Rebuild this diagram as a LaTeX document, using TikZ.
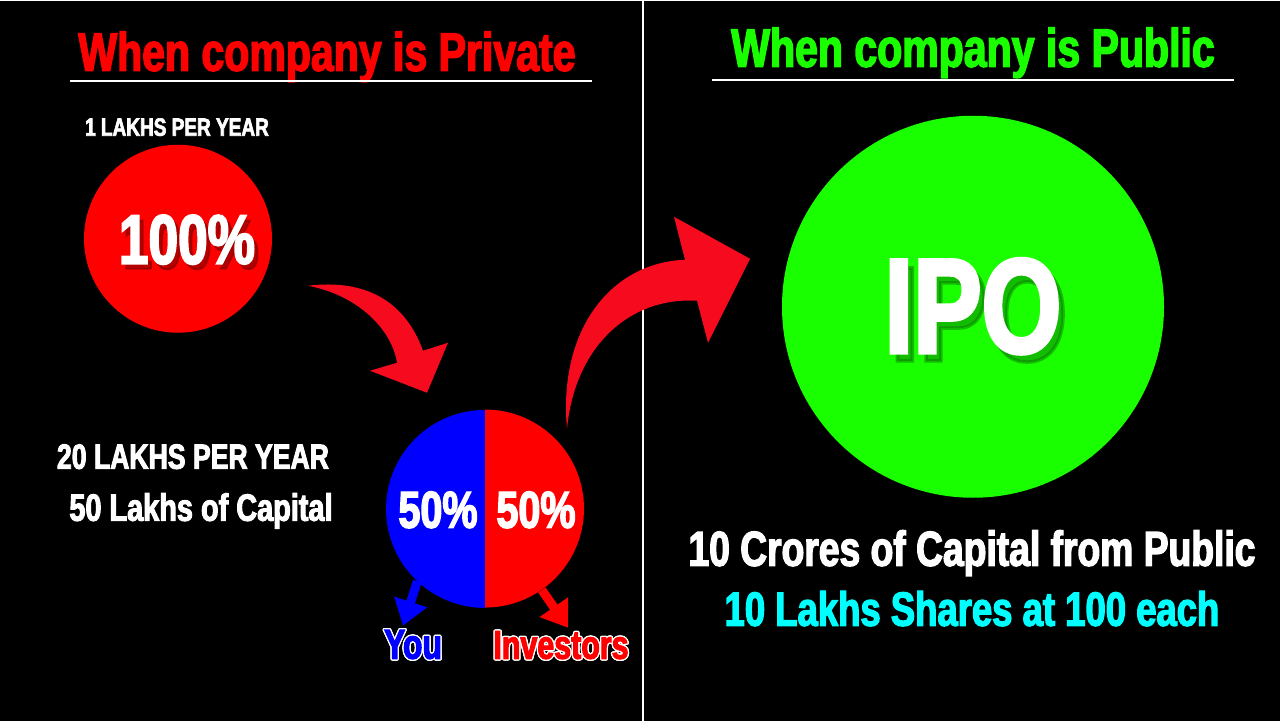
\documentclass[tikz,border=0pt]{standalone}
\usepackage{fontspec}
\usepackage{contour}
\usetikzlibrary{arrows.meta}
\newfontfamily\impact[FakeStretch=0.76,FakeBold=2.6]{Liberation Sans}
\newcommand{\fsz}[1]{\fontsize{#1}{#1}\selectfont}
\definecolor{arrowred}{HTML}{F50A1E}
\definecolor{pubgreen}{HTML}{1AFF00}
\definecolor{pieblue}{HTML}{0000FF}
\definecolor{sharecyan}{HTML}{00FFFF}
\definecolor{redshadow}{HTML}{7A0000}
\definecolor{greenshadow}{HTML}{0B7A00}
\contourlength{1.3pt}

\begin{document}
\begin{tikzpicture}[x=1pt,y=-1pt,
  lbl/.style={anchor=base,inner sep=0pt,text=white},
  disc/.style={circle,inner sep=0pt},
  rule/.style={draw=white,line width=2pt},
  splitarrow/.style={line width=9pt,-{Triangle[length=25pt,width=33pt]}}]
  \fill[black] (0,0) rectangle (1280,720);
  \draw[white,line width=1.5pt] (643,0) -- (643,720);

  % private company
  \node[lbl,text=red,font=\impact\bfseries\fsz{54}] (privtitle) at (327,70) {When company is Private};
  \draw[rule] (70,80) -- (592,80);
  \node[lbl,font=\impact\bfseries\fsz{25}] (oneyear) at (177,135) {1 LAKHS PER YEAR};
  \node[disc,fill=red,minimum size=188pt] (full) at (178,238) {};
  \node[lbl,text=redshadow,opacity=0.55,font=\impact\bfseries\fsz{70}] at (191,268) {100\%};
  \node[lbl,font=\impact\bfseries\fsz{70}] (fullpct) at (187,263) {100\%};

  \fill[arrowred] (308,285) .. controls (365,278) and (405,300) .. (423,350)
    -- (448,342) -- (427,392) -- (370,370) -- (397,362)
    .. controls (392,330) and (360,295) .. (308,285) -- cycle;

  \node[lbl,font=\impact\bfseries\fsz{35}] (twenty) at (193,468) {20 LAKHS PER YEAR};
  \node[lbl,font=\impact\bfseries\fsz{38}] (capital) at (201,520) {50 Lakhs of Capital};

  \node[disc,minimum size=198pt] (pie) at (485,508) {};
  \fill[pieblue] (pie.south) arc[start angle=90,end angle=270,radius=99] -- cycle;
  \fill[red] (pie.north) arc[start angle=270,end angle=450,radius=99] -- cycle;
  \node[lbl,font=\impact\bfseries\fsz{52}] (youpct) at (438,527) {50\%};
  \node[lbl,font=\impact\bfseries\fsz{52}] (invpct) at (536,527) {50\%};

  \coordinate (youtip) at (403,625);
  \coordinate (invtip) at (568,627);
  \draw[splitarrow,pieblue] (pie.227) -- (youtip);
  \draw[splitarrow,red] (pie.305) -- (invtip);
  \node[lbl,text=pieblue,font=\impact\bfseries\fsz{42}] (you) at (413,658) {\contour{white}{You}};
  \node[lbl,text=red,font=\impact\bfseries\fsz{40}] (investors) at (561,658) {\contour{white}{Investors}};

  \fill[arrowred] (567,428) .. controls (558,330) and (610,262) .. (685,259)
    -- (674,216) -- (750,258) -- (708,342) -- (697,300)
    .. controls (630,296) and (575,345) .. (567,428) -- cycle;

  % public company
  \node[lbl,text=pubgreen,font=\impact\bfseries\fsz{54}] (pubtitle) at (973,66) {When company is Public};
  \draw[rule] (712,79) -- (1234,79);
  \node[disc,fill=pubgreen,minimum size=382pt] (ipo) at (973,306) {};
  \node[lbl,text=greenshadow,opacity=0.5,font=\impact\bfseries\fsz{135}] at (979,360) {IPO};
  \node[lbl,font=\impact\bfseries\fsz{135}] (ipotext) at (973,352) {IPO};
  \node[lbl,font=\impact\bfseries\fsz{49}] (crores) at (972,565) {10 Crores of Capital from Public};
  \node[lbl,text=sharecyan,font=\impact\bfseries\fsz{48}] (shares) at (972,625) {10 Lakhs Shares at 100 each};
\end{tikzpicture}
\end{document}
